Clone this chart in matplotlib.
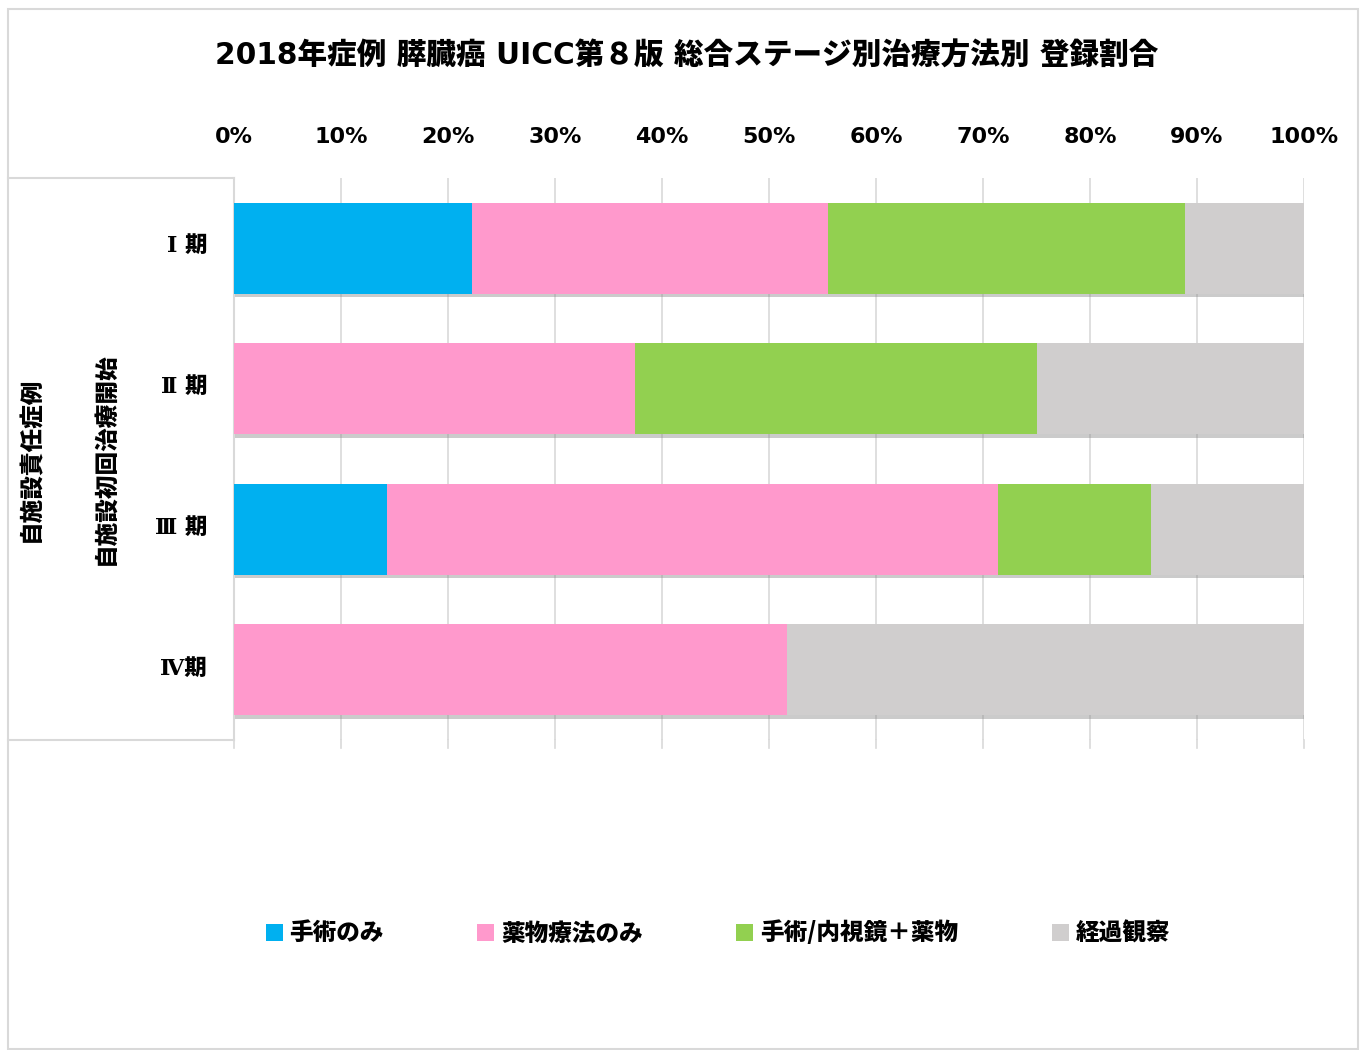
import matplotlib
matplotlib.use('Agg')
import matplotlib.pyplot as plt
import matplotlib.patheffects as pe
from matplotlib.patches import Rectangle
from matplotlib.lines import Line2D
import numpy as np

plt.rcParams['font.family'] = ['Noto Sans CJK JP', 'DejaVu Sans']
plt.rcParams['font.weight'] = 'heavy'
latin = ['DejaVu Sans', 'Noto Sans CJK JP']
serif = ['DejaVu Serif', 'Noto Sans CJK JP']

title = '2018年症例 膵臓癌 UICC第８版 総合ステージ別治療方法別 登録割合'
stages = ['Ⅰ 期', 'Ⅱ 期', 'Ⅲ 期', 'Ⅳ期']
series = ['手術のみ', '薬物療法のみ', '手術/内視鏡＋薬物', '経過観察']
colors = ['#00b0f0', '#ff99cc', '#92d050', '#d0cece']

# percent per stage
surgery = [22.2, 0.0, 14.3, 0.0]
drug = [33.3, 37.5, 57.1, 51.7]
surg_drug = [33.4, 37.5, 14.3, 0.0]
observe = [11.1, 25.0, 14.3, 48.3]
values = [surgery, drug, surg_drug, observe]

fig = plt.figure(figsize=(13.65, 10.5), dpi=100)
W, H = 1365, 1050

def fx(px):
    return px / W

def fy(py):
    return 1 - py / H

# outer frame
fig.patches.append(Rectangle((fx(8), fy(1049)), fx(1350), (1040) / H, transform=fig.transFigure,
                             fill=False, edgecolor='#d9d9d9', linewidth=1.5))

ax = fig.add_axes([fx(234), fy(740), fx(1304) - fx(234), (740 - 178) / H])
y = np.arange(len(stages))
left = np.zeros(len(stages))
shadow = [pe.SimplePatchShadow(offset=(1, -2.5), shadow_rgbFace='#8c8c8c', alpha=0.45), pe.Normal()]
for vals, col, name in zip(values, colors, series):
    vals = np.array(vals)
    bars = ax.barh(y, vals, left=left, height=0.65, color=col, label=name, zorder=3)
    for b in bars:
        b.set_path_effects(shadow)
    left += vals

ax.set_xlim(0, 100)
ax.set_ylim(3.5, -0.5)
ax.set_xticks(np.arange(0, 101, 10))
ax.set_xticklabels([f'{v}%' for v in range(0, 101, 10)], fontsize=16, fontweight='bold', family=latin)
ax.xaxis.tick_top()
ax.tick_params(axis='x', length=0, pad=22)
ax.set_yticks([])
ax.grid(axis='x', color='#d9d9d9', linewidth=1.2, zorder=0)
for s in ['top', 'right', 'bottom']:
    ax.spines[s].set_visible(False)
ax.spines['left'].set_color('#d9d9d9')
ax.spines['left'].set_linewidth(1.5)

# small tick stubs beyond the plot area
for v in range(0, 101, 10):
    xx = fx(234) + (fx(1304) - fx(234)) * v / 100
    fig.add_artist(Line2D([xx, xx], [fy(740), fy(748)], color='#d9d9d9', lw=1.2))

# category box on the left
fig.add_artist(Line2D([fx(8), fx(234)], [fy(178), fy(178)], color='#d9d9d9', lw=1.5))
fig.add_artist(Line2D([fx(8), fx(234)], [fy(740), fy(740)], color='#d9d9d9', lw=1.5))

for i, s in enumerate(stages):
    fig.text(fx(207), fy(246 + 141 * i), s, ha='right', va='center', fontsize=16, fontweight='heavy',
             family=serif)

fig.text(fx(31), fy(459), '自施設責任症例', rotation=90, ha='center', va='center', fontsize=17, fontweight='heavy')
fig.text(fx(105), fy(459), '自施設初回治療開始', rotation=90, ha='center', va='center', fontsize=17, fontweight='heavy')

fig.text(fx(687), fy(56), title, ha='center', va='center', fontsize=21.3, fontweight='heavy',
         family=latin)

leg = fig.legend(loc='center', bbox_to_anchor=(fx(718), fy(933)), ncol=4, frameon=False,
                 handlelength=0.72, handleheight=0.72, handletextpad=0.3, columnspacing=3.95,
                 prop={'weight': 'heavy', 'size': 17})
for h in leg.legend_handles:
    h.set_path_effects([])

fig.savefig('out.png', dpi=100)
